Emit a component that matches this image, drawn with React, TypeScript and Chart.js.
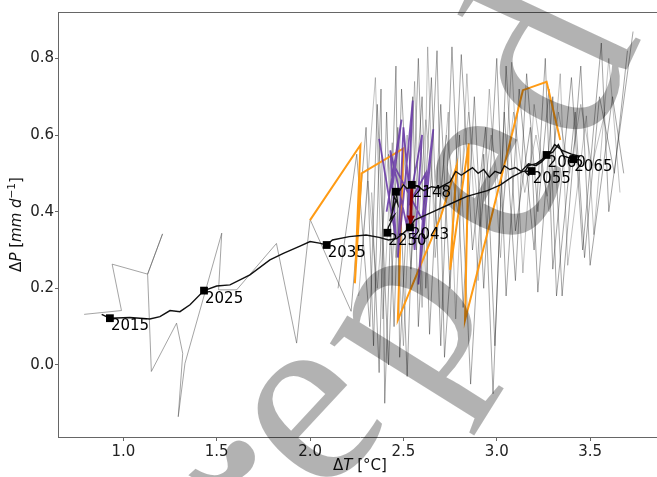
import React, { useEffect, useRef } from 'react';
import { Chart, registerables } from 'chart.js';
Chart.register(...registerables);

// ---------- data ----------
const X_TICKS = [1.0, 1.5, 2.0, 2.5, 3.0, 3.5];
const Y_TICKS = [0.0, 0.2, 0.4, 0.6, 0.8];

const markerYears = ['2015', '2025', '2035', '2043', '2148', '2250', '2055', '2060', '2065', ''];
const markerT = [0.928, 1.432, 2.089, 2.535, 2.545, 2.414, 3.187, 3.267, 3.41, 2.46];
const markerP = [0.122, 0.194, 0.313, 0.359, 0.470, 0.345, 0.506, 0.548, 0.537, 0.452];

const blackT = [0.884, 0.928, 1.035, 1.142, 1.196, 1.25, 1.303, 1.357, 1.432, 1.50, 1.571, 1.678, 1.785, 1.857, 1.946, 2.0, 2.05, 2.089, 2.12, 2.21, 2.30, 2.37, 2.42, 2.464, 2.50, 2.535, 2.56, 2.66, 2.75, 2.84, 2.95, 3.02, 3.08, 3.14, 3.187, 3.17, 3.15, 3.17, 3.21, 3.24, 3.267, 3.30, 3.33, 3.36, 3.41, 3.44, 3.40, 3.35, 3.31, 3.28, 3.24, 3.21, 3.17, 3.13, 3.10, 3.07, 3.04, 3.02, 2.99, 2.96, 2.93, 2.90, 2.87, 2.84, 2.81, 2.78, 2.75, 2.72, 2.69, 2.65, 2.61, 2.58, 2.545, 2.52, 2.50, 2.48, 2.46, 2.47, 2.45, 2.44, 2.46, 2.43, 2.45, 2.42, 2.414];
const blackP = [0.132, 0.122, 0.124, 0.120, 0.126, 0.142, 0.139, 0.157, 0.194, 0.206, 0.209, 0.235, 0.274, 0.291, 0.310, 0.322, 0.318, 0.313, 0.326, 0.335, 0.339, 0.333, 0.326, 0.330, 0.344, 0.359, 0.378, 0.400, 0.420, 0.440, 0.455, 0.470, 0.490, 0.505, 0.506, 0.495, 0.505, 0.520, 0.525, 0.535, 0.548, 0.555, 0.575, 0.545, 0.537, 0.545, 0.550, 0.560, 0.575, 0.550, 0.530, 0.520, 0.525, 0.505, 0.515, 0.510, 0.520, 0.500, 0.505, 0.490, 0.510, 0.500, 0.515, 0.505, 0.495, 0.505, 0.478, 0.470, 0.462, 0.465, 0.455, 0.465, 0.470, 0.460, 0.470, 0.455, 0.452, 0.420, 0.440, 0.400, 0.430, 0.380, 0.390, 0.360, 0.345];

const arrowT = [2.545, 2.538];
const arrowP = [0.466, 0.366];

const purpleT = [2.37, 2.46, 2.43, 2.52, 2.55, 2.47, 2.50, 2.56, 2.60, 2.53, 2.62, 2.58, 2.66, 2.60, 2.45, 2.41, 2.49, 2.44];
const purpleP = [0.59, 0.33, 0.56, 0.36, 0.69, 0.28, 0.62, 0.30, 0.60, 0.42, 0.50, 0.21, 0.615, 0.38, 0.52, 0.40, 0.64, 0.46];

const orangeT = [2.00, 2.27, 2.24, 2.276, 2.50, 2.47, 2.70, 2.785, 2.75, 2.85, 2.83, 2.95, 3.14, 3.267, 3.34];
const orangeP = [0.378, 0.574, 0.213, 0.50, 0.565, 0.117, 0.387, 0.52, 0.248, 0.578, 0.117, 0.344, 0.717, 0.739, 0.587];

const greyLeftT = [0.79, 0.99, 0.94, 1.13, 1.21, 1.13, 1.15, 1.285, 1.318, 1.294, 1.33, 1.527, 1.51, 1.607, 1.82, 1.928, 2.0];
const greyLeftP = [0.132, 0.142, 0.263, 0.237, 0.342, 0.237, -0.017, 0.109, 0.03, -0.135, 0.004, 0.344, 0.196, 0.196, 0.317, 0.057, 0.378];

const grey1T = [2.0, 2.22, 2.30, 2.34, 2.38, 2.40, 2.46, 2.48, 2.55, 2.58, 2.65, 2.70, 2.76, 2.82, 2.88, 2.93, 3.00, 3.05, 3.12, 3.20, 3.26, 3.30, 3.40, 3.46, 3.56, 3.60, 3.73];
const grey1P = [0.38, 0.14, 0.62, 0.05, 0.72, -0.10, 0.78, 0.02, 0.70, 0.10, 0.75, 0.05, 0.83, 0.15, 0.70, 0.20, 0.80, 0.18, 0.72, 0.30, 0.80, 0.25, 0.75, 0.30, 0.84, 0.40, 0.87];
const grey2T = [2.15, 2.25, 2.32, 2.36, 2.42, 2.47, 2.52, 2.58, 2.62, 2.68, 2.72, 2.80, 2.86, 2.93, 2.98, 3.05, 3.10, 3.18, 3.22, 3.30, 3.35, 3.45, 3.50, 3.62, 3.68];
const grey2P = [0.20, 0.55, 0.10, 0.68, 0.00, 0.62, -0.03, 0.80, 0.20, 0.82, 0.02, 0.60, -0.05, 0.55, -0.075, 0.78, 0.35, 0.62, 0.19, 0.70, 0.18, 0.78, 0.26, 0.70, 0.50];
const grey3T = [2.28, 2.35, 2.39, 2.44, 2.50, 2.56, 2.60, 2.63, 2.67, 2.74, 2.78, 2.84, 2.90, 2.96, 3.02, 3.08, 3.14, 3.20, 3.28, 3.34, 3.38, 3.48, 3.52, 3.60, 3.66];
const grey3P = [0.30, 0.75, 0.12, 0.58, 0.05, 0.74, 0.15, 0.83, 0.28, 0.66, 0.12, 0.76, 0.22, 0.72, 0.28, 0.79, 0.24, 0.68, 0.40, 0.76, 0.26, 0.65, 0.34, 0.80, 0.45];
const grey4T = [2.33, 2.37, 2.41, 2.45, 2.49, 2.54, 2.60, 2.64, 2.70, 2.75, 2.81, 2.87, 2.94, 2.99, 3.04, 3.10, 3.16, 3.22, 3.28, 3.32, 3.42, 3.47, 3.55, 3.63, 3.70];
const grey4P = [0.45, -0.02, 0.66, 0.10, 0.72, 0.25, 0.70, 0.08, 0.68, 0.20, 0.81, 0.30, 0.62, 0.05, 0.66, 0.22, 0.76, 0.40, 0.72, 0.18, 0.66, 0.28, 0.70, 0.50, 0.82];
const grey5T = [2.26, 2.31, 2.36, 2.42, 2.46, 2.52, 2.57, 2.62, 2.68, 2.73, 2.79, 2.85, 2.91, 2.97, 3.03, 3.09, 3.15, 3.21, 3.27, 3.33, 3.39, 3.45, 3.51, 3.58];
const grey5P = [0.18, 0.48, 0.20, 0.55, 0.28, 0.60, 0.30, 0.64, 0.35, 0.60, 0.40, 0.66, 0.36, 0.60, 0.40, 0.66, 0.45, 0.60, 0.44, 0.66, 0.50, 0.68, 0.52, 0.66];

// watermark glyphs (decoration)
const WM_GLYPHS = [',', 'e', 'p', 'e', 'd'];
const WM_X = [236, 315, 410, 495, 562];
const WM_Y = [462, 420, 325, 182, 70];
const WM_ROT = [48, -47, -58, -62, -65];

// ---------- helpers ----------
const FONT = "'DejaVu Sans', sans-serif";
const pts = (t: number[], p: number[]) => t.map((x, i) => ({ x, y: p[i] }));
const line = (t: number[], p: number[], color: string, width: number) => ({
  data: pts(t, p),
  showLine: true,
  borderColor: color,
  backgroundColor: color,
  borderWidth: width,
  pointRadius: 0,
  tension: 0,
});

type Part = { t: string; italic?: boolean; size?: number; dy?: number };
function drawParts(ctx: CanvasRenderingContext2D, parts: Part[], cx: number, cy: number) {
  const fontOf = (p: Part) => `${p.italic ? 'italic ' : ''}${p.size ?? 15}px ${FONT}`;
  let w = 0;
  for (const p of parts) { ctx.font = fontOf(p); w += ctx.measureText(p.t).width; }
  let x = cx - w / 2;
  ctx.textAlign = 'left';
  ctx.textBaseline = 'middle';
  for (const p of parts) {
    ctx.font = fontOf(p);
    ctx.fillText(p.t, x, cy + (p.dy ?? 0));
    x += ctx.measureText(p.t).width;
  }
}

const overlayPlugin = {
  id: 'overlay',
  afterDatasetsDraw(chart: any) {
    const ctx = chart.ctx as CanvasRenderingContext2D;
    const area = chart.chartArea;
    ctx.save();
    ctx.strokeStyle = '#666';
    ctx.lineWidth = 1;
    ctx.beginPath();
    ctx.moveTo(area.left, area.top + 0.5);
    ctx.lineTo(area.right, area.top + 0.5);
    ctx.stroke();
    const am = chart.getDatasetMeta(2).data;
    if (am.length === 2) {
      const a = am[0], b = am[1];
      const ang = Math.atan2(b.y - a.y, b.x - a.x);
      ctx.fillStyle = '#8b0000';
      ctx.beginPath();
      ctx.moveTo(b.x, b.y);
      ctx.lineTo(b.x - 9 * Math.cos(ang) + 4 * Math.sin(ang), b.y - 9 * Math.sin(ang) - 4 * Math.cos(ang));
      ctx.lineTo(b.x - 9 * Math.cos(ang) - 4 * Math.sin(ang), b.y - 9 * Math.sin(ang) + 4 * Math.cos(ang));
      ctx.closePath();
      ctx.fill();
    }
    const mm = chart.getDatasetMeta(0).data;
    ctx.fillStyle = '#000';
    ctx.font = `15px ${FONT}`;
    ctx.textAlign = 'left';
    ctx.textBaseline = 'alphabetic';
    mm.forEach((el: any, i: number) => {
      if (markerYears[i]) ctx.fillText(markerYears[i], el.x + 1, el.y + 12);
    });
    ctx.restore();
  },
  afterDraw(chart: any) {
    const ctx = chart.ctx as CanvasRenderingContext2D;
    const area = chart.chartArea;
    ctx.save();
    ctx.fillStyle = '#111';
    drawParts(ctx, [{ t: 'Δ' }, { t: 'T', italic: true }, { t: ' [°C]' }], (area.left + area.right) / 2, 466);
    ctx.save();
    ctx.translate(17, (area.top + area.bottom) / 2);
    ctx.rotate(-Math.PI / 2);
    drawParts(ctx, [
      { t: 'Δ' }, { t: 'P', italic: true }, { t: ' [' }, { t: 'mm d', italic: true },
      { t: '−1', size: 10.5, dy: -5 }, { t: ']' },
    ], 0, 0);
    ctx.restore();
    const S = 255;
    ctx.fillStyle = 'rgba(0,0,0,0.3)';
    ctx.font = `${S}px 'Liberation Serif', serif`;
    ctx.textAlign = 'center';
    ctx.textBaseline = 'alphabetic';
    WM_GLYPHS.forEach((g, i) => {
      ctx.save();
      ctx.translate(WM_X[i], WM_Y[i]);
      ctx.rotate((WM_ROT[i] * Math.PI) / 180);
      ctx.fillText(g, 0, g === ',' ? 0.02 * S : 0.23 * S);
      ctx.restore();
    });
    ctx.restore();
  },
};

export default function App() {
  const ref = useRef<HTMLCanvasElement>(null);
  useEffect(() => {
    document.body.style.overflow = 'hidden';
    const greyDark = 'rgba(30,30,30,0.5)';
    const chart = new Chart(ref.current as HTMLCanvasElement, {
      type: 'scatter',
      data: {
        datasets: [
          {
            data: pts(markerT, markerP),
            pointStyle: 'rect',
            pointRadius: 5.5,
            backgroundColor: '#000',
            borderColor: '#000',
            borderWidth: 0,
            showLine: false,
          } as any,
          line(blackT, blackP, '#111', 1.4),
          line(arrowT, arrowP, '#8b0000', 3),
          line(purpleT, purpleP, 'rgba(100,50,165,0.85)', 1.8),
          line(orangeT, orangeP, 'rgb(255,155,20)', 2),
          line(greyLeftT, greyLeftP, 'rgba(90,90,90,0.55)', 1),
          line(grey1T, grey1P, greyDark, 0.8),
          line(grey2T, grey2P, greyDark, 0.8),
          line(grey3T, grey3P, 'rgba(60,60,60,0.4)', 0.8),
          line(grey4T, grey4P, greyDark, 0.8),
          line(grey5T, grey5P, 'rgba(60,60,60,0.4)', 0.8),
        ],
      },
      options: {
        responsive: false,
        animation: false,
        devicePixelRatio: 1,
        layout: { padding: { left: 0, top: 12, right: 8, bottom: 0 } },
        plugins: { legend: { display: false }, tooltip: { enabled: false } },
        scales: {
          x: {
            type: 'linear',
            min: 0.65,
            max: 3.885,
            afterBuildTicks: (s: any) => { s.ticks = X_TICKS.map((v) => ({ value: v })); },
            afterFit: (s: any) => { s.height = 40; },
            ticks: { font: { family: FONT, size: 15 }, color: '#222', padding: 2, callback: (v: any) => Number(v).toFixed(1) },
            grid: { drawOnChartArea: false, tickLength: 4, color: '#666' },
            border: { color: '#666' },
          },
          y: {
            type: 'linear',
            min: -0.188,
            max: 0.921,
            afterBuildTicks: (s: any) => { s.ticks = Y_TICKS.map((v) => ({ value: v })); },
            afterFit: (s: any) => { s.width = 58; },
            ticks: { font: { family: FONT, size: 15 }, color: '#222', padding: 1, callback: (v: any) => Number(v).toFixed(1) },
            grid: { drawOnChartArea: false, tickLength: 3, color: '#666' },
            border: { color: '#666' },
          },
        },
      } as any,
      plugins: [overlayPlugin],
    });
    return () => chart.destroy();
  }, []);
  return (
    <div style={{ position: 'fixed', left: 0, top: 0, width: 670, height: 477, background: '#fff' }}>
      <canvas ref={ref} width={670} height={477} style={{ display: 'block', width: 670, height: 477 }} />
    </div>
  );
}
